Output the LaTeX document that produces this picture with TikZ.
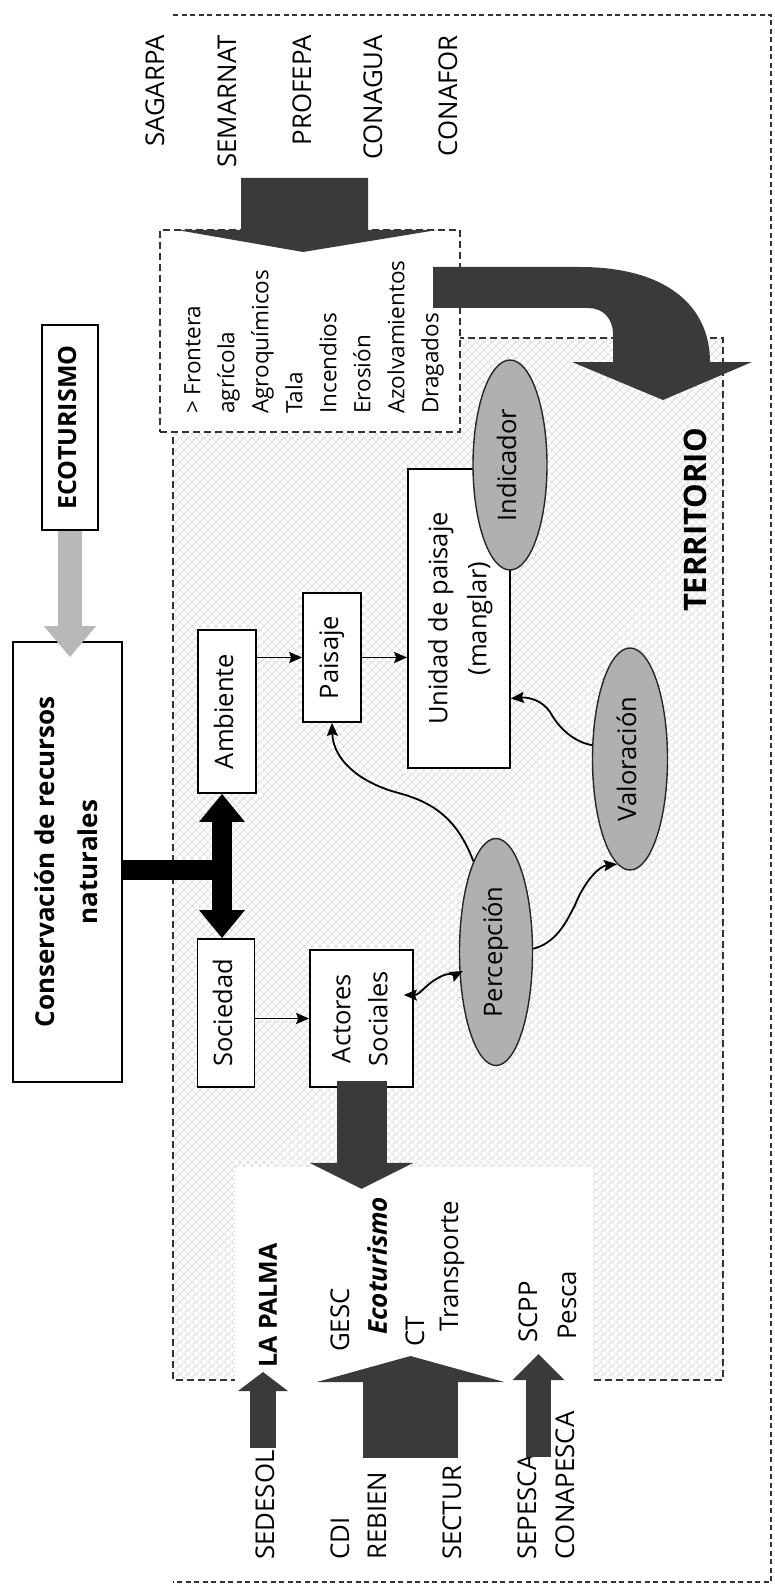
\documentclass[tikz,border=0pt]{standalone}
\usepackage{fontspec}
\setmainfont{Open Sans}
\usetikzlibrary{arrows.meta,shapes.geometric,patterns.meta,calc}
\definecolor{darkarr}{HTML}{3A3A3A}
\definecolor{lightarr}{HTML}{B8B8B8}
\definecolor{ellfill}{HTML}{B0B0B0}
\definecolor{framec}{HTML}{333333}
\newcommand{\rtxt}[1]{\rotatebox{90}{\begin{tabular}{@{}c@{}}#1\end{tabular}}}
\tikzdeclarepattern{
  name=meshpat,
  type=uncolored,
  bounding box={(-1pt,-1pt) and (9pt,9pt)},
  tile size={(8pt,8pt)},
  line width=0.7pt,
  code={
    \draw (0pt,0pt) .. controls (2pt,3pt) and (3pt,5pt) .. (4pt,4pt) .. controls (5pt,3pt) and (6pt,5pt) .. (8pt,8pt);
    \draw (0pt,8pt) -- (8pt,0pt);
  }
}
\begin{document}
\begin{tikzpicture}[x=1pt,y=-1pt,
  box/.style={draw=black, line width=1.7pt, fill=white, inner sep=0pt, font=\fontsize{25.5}{30}\selectfont},
  oval/.style={ellipse, draw=black!85, line width=1.4pt, fill=ellfill, inner sep=0pt, font=\fontsize{25.5}{30}\selectfont},
  lab/.style={rotate=90, inner sep=0pt, font=\fontsize{25.8}{30}\selectfont},
  dashframe/.style={dash pattern=on 7pt off 4pt, line width=1.4pt, draw=framec},
  outerframe/.style={dash pattern=on 5pt off 3.5pt, line width=1.4pt, draw=framec},
  thinarrow/.style={line width=1.8pt, -{Stealth[length=13pt,width=11pt,inset=2pt]}},
  wavyarrow/.style={line width=1.8pt, -{Stealth[length=13pt,width=11pt,inset=2pt]}},
  dblarrow/.style={line width=20pt, black, {Triangle[length=28pt,width=44pt]}-{Triangle[length=28pt,width=44pt]}}
]
\useasboundingbox (0,0) rectangle (774,1586);
\fill[white] (0,0) rectangle (774,1586);

% outer frame (open on the left)
\draw[outerframe] (173,15) -- (771,15) -- (771,1582) -- (173,1582);

% territorio area
\path[pattern=meshpat, pattern color=gray!25] (173,338) rectangle (723,1380);
\draw[dashframe] (173,338) rectangle (723,1380);
\fill[white] (235,1167) rectangle (593,1398);

% frontera box
\node[dashframe, fill=white, minimum width=300pt, minimum height=202pt, inner sep=0pt] (front) at (310,331) {};
\node[lab, anchor=north west, align=left, font=\fontsize{22.5}{34}\selectfont] (lista) at (184,414) {> Frontera\\agrícola\\Agroquímicos\\Tala\\Incendios\\Erosión\\Azolvamientos\\Dragados};

% agencies top
\node[lab, anchor=east] (sagarpa) at (155,35) {SAGARPA};
\node[lab, anchor=east] (semarnat) at (227,35) {SEMARNAT};
\node[lab, anchor=east] (profepa) at (302,35) {PROFEPA};
\node[lab, anchor=east] (conagua) at (373,35) {CONAGUA};
\node[lab, anchor=east] (conafor) at (448,35) {CONAFOR};

% big top arrow
\fill[darkarr] (241,178) -- (368,178) -- (368,230) -- (437,230) -- (303,252) -- (177,230) -- (241,230) -- cycle;

% curved arrow to territorio
\fill[darkarr] (433,267) -- (580,267) .. controls (665,267) and (710,305) .. (710,362) -- (752,362) -- (663,400) -- (572,362) -- (613,362) -- (613,335) .. controls (613,318) and (603,308) .. (588,308) -- (433,308) -- cycle;

% main boxes
\node[box, minimum width=56pt, minimum height=205pt, font=\bfseries\fontsize{25}{30}\selectfont] (eco) at (70,427.5) {\rtxt{ECOTURISMO}};
\node[box, minimum width=109pt, minimum height=440pt, font=\bfseries\fontsize{26}{43}\selectfont] (cons) at (67.5,862) {\rtxt{Conservación de recursos\\naturales}};
\node[box, minimum width=58pt, minimum height=163pt] (amb) at (227,711.5) {\rtxt{Ambiente}};
\node[box, minimum width=57pt, minimum height=148pt] (soc) at (226,1013) {\rtxt{Sociedad}};
\node[box, minimum width=58pt, minimum height=129pt] (pais) at (332,657.5) {\rtxt{Paisaje}};
\node[box, minimum width=103pt, minimum height=137pt, font=\fontsize{25.5}{37}\selectfont] (act) at (361.5,1018.5) {\rtxt{Actores\\Sociales}};
\node[box, minimum width=102pt, minimum height=299pt, font=\fontsize{25.5}{39}\selectfont] (unid) at (459,618.5) {\rtxt{Unidad de paisaje\\(manglar)}};
\node[oval, minimum width=74pt, minimum height=210pt] (ind) at (510,465) {\rtxt{Indicador}};
\node[oval, minimum width=75pt, minimum height=222pt] (val) at (630,759) {\rtxt{Valoración}};
\node[oval, minimum width=73pt, minimum height=227pt] (perc) at (496,952) {\rtxt{Percepción}};

\node[lab, font=\bfseries\fontsize{31}{36}\selectfont] (terr) at (695,520) {TERRITORIO};

% gray arrow
\draw[line width=24pt, lightarr, -{Triangle[length=31pt,width=50pt]}] (eco.south) -- ([yshift=-16pt]cons.north -| eco.south);

% black connector and double arrow
\draw[line width=20pt, black] ([yshift=-8pt]cons.east) -- ([yshift=-8pt]cons.east -| soc.north);
\draw[dblarrow] ([xshift=-5pt]amb.south) -- ([xshift=-4pt]soc.north);

% thin arrows
\draw[thinarrow] (amb.east |- pais.west) -- (pais.west);
\draw[thinarrow] (pais.east) -- (pais.east -| unid.west);
\draw[thinarrow] (soc.east |- act.west) -- (act.west);

% wavy arrows
\draw[wavyarrow] (perc.104) .. controls (455,812) and (425,800) .. (395,792) .. controls (360,782) and (333,760) .. (pais.south);
\draw[wavyarrow] (perc.5) .. controls (555,943) and (565,925) .. (575,905) .. controls (585,880) and (600,866) .. (val.263);
\draw[wavyarrow] (val.160) .. controls (575,742) and (560,730) .. (550,712) .. controls (542,700) and (528,697) .. ([yshift=-80pt]unid.east);
\draw[line width=1.8pt, {Stealth[length=13pt,width=11pt,inset=2pt]}-{Stealth[length=13pt,width=11pt,inset=2pt]}] ([xshift=-10pt,yshift=23.5pt]act.east) .. controls (420,995) and (425,985) .. (438,978) .. controls (450,971) and (455,975) .. ([xshift=4pt,yshift=-19pt]perc.west);

% arrow from actores down
\draw[darkarr, line width=50pt, -{Triangle[length=26pt,width=103pt]}] ([yshift=7pt]act.south) -- ++(0,108);

% lower labels
\node[lab, anchor=west, font=\bfseries\fontsize{25}{30}\selectfont] (lapalma) at (268,1368) {LA PALMA};
\node[lab, anchor=west] (sedesol) at (265,1560) {SEDESOL};
\node[lab, anchor=west] (cdi) at (340,1560) {CDI};
\node[lab, anchor=west] (rebien) at (377,1560) {REBIEN};
\node[lab, anchor=west] (sectur) at (452,1560) {SECTUR};
\node[lab, anchor=west] (sepesca) at (527,1560) {SEPESCA};
\node[lab, anchor=west] (conapesca) at (565,1560) {CONAPESCA};
\node[lab, anchor=west] (gesc) at (340,1352) {GESC};
\node[lab, anchor=west, font=\bfseries\itshape\fontsize{26}{30}\selectfont] (ecot) at (377,1335) {Ecoturismo};
\node[lab, anchor=west] (ct) at (415,1347) {CT};
\node[lab, anchor=west] (transp) at (452,1332) {Transporte};
\node[lab, anchor=west] (scpp) at (528,1343) {SCPP};
\node[lab, anchor=west] (pesca) at (567,1340) {Pesca};

% lower arrows
\coordinate (lpA) at (263,1448);
\coordinate (lpB) at (263,1372);
\draw[darkarr, line width=26pt, -{Triangle[length=19pt,width=49pt]}] (lpA) -- (lpB);
\coordinate (mA) at (410.5,1458);
\coordinate (mB) at (410.5,1356);
\draw[darkarr, line width=95pt, -{Triangle[length=26pt,width=187pt]}] (mA) -- (mB);
\coordinate (sA) at (538.5,1457);
\coordinate (sB) at (538.5,1354);
\draw[darkarr, line width=25pt, -{Triangle[length=26pt,width=50pt]}] (sA) -- (sB);
\end{tikzpicture}
\end{document}
